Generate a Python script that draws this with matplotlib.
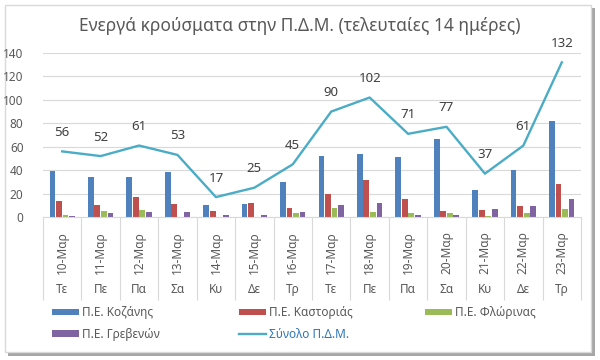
import numpy as np
import matplotlib
matplotlib.use("Agg")
from matplotlib import pyplot as plt
from matplotlib.patches import Rectangle, Patch
from matplotlib.lines import Line2D
from matplotlib.transforms import blended_transform_factory

plt.rcParams['font.family'] = ['Noto Sans', 'DejaVu Sans']

# Data
dates = ['10-Μαρ', '11-Μαρ', '12-Μαρ', '13-Μαρ', '14-Μαρ', '15-Μαρ', '16-Μαρ',
         '17-Μαρ', '18-Μαρ', '19-Μαρ', '20-Μαρ', '21-Μαρ', '22-Μαρ', '23-Μαρ']
days = ['Τε', 'Πε', 'Πα', 'Σα', 'Κυ', 'Δε', 'Τρ',
        'Τε', 'Πε', 'Πα', 'Σα', 'Κυ', 'Δε', 'Τρ']
kozani = [39, 34, 34, 38, 10, 11, 30, 52, 54, 51, 67, 23, 40, 82]
kastoria = [14, 10, 17, 11, 5, 12, 8, 20, 32, 15, 5, 6, 9, 28]
florina = [2, 5, 6, 0, 0, 0, 3, 8, 4, 3, 3, 1, 3, 7]
grevena = [1, 3, 4, 4, 2, 2, 4, 10, 12, 2, 2, 7, 9, 15]
total = [56, 52, 61, 53, 17, 25, 45, 90, 102, 71, 77, 37, 61, 132]

series = [
    ('Π.Ε. Κοζάνης', kozani, '#4F81BD'),
    ('Π.Ε. Καστοριάς', kastoria, '#C0504D'),
    ('Π.Ε. Φλώρινας', florina, '#9BBB59'),
    ('Π.Ε. Γρεβενών', grevena, '#8064A2'),
]
line_color = '#4BACC6'
text_grey = '#595959'

fig = plt.figure(figsize=(6, 3.6), dpi=100)

# outer frame with shadow
fig.patches.append(Rectangle((8/600, 4/360), 587/600, 348/360, transform=fig.transFigure,
                             facecolor='#A6A6A6', edgecolor='none', zorder=-3))
fig.patches.append(Rectangle((5/600, 8/360), 586/600, 347/360, transform=fig.transFigure,
                             facecolor='white', edgecolor='#D9D9D9', lw=1, zorder=-2))

ax = fig.add_axes([43/600, 1 - 217/360, 538/600, 164/360])
ax.set_facecolor('none')
x = np.arange(len(dates))

w = 0.15
step = 0.17
for i, (name, vals, col) in enumerate(series):
    ax.bar(x + (i - 1.5) * step, vals, width=w, color=col, zorder=2)

ax.plot(x, total, color=line_color, lw=1.7, zorder=3)
for xi, v in zip(x, total):
    ax.annotate(str(v), (xi, v), xytext=(0, 9), textcoords='offset points',
                ha='center', va='bottom', fontsize=9.5, color='#404040', zorder=4)

ax.set_xlim(-0.5, len(dates) - 0.5)
ax.set_ylim(0, 140)
ax.set_yticks(range(0, 141, 20))
ax.grid(axis='y', color='#D9D9D9', lw=0.8, zorder=0)
for s in ['top', 'right', 'left']:
    ax.spines[s].set_visible(False)
ax.spines['bottom'].set_color('#D9D9D9')
ax.tick_params(axis='y', length=0, labelsize=8.5, labelcolor=text_grey, pad=14)

# category axis: dates rotated, weekdays below, separators as long minor ticks
ax.set_xticks(x)
ax.set_xticklabels(dates, rotation=90, fontsize=8.5, color=text_grey)
ax.tick_params(axis='x', which='major', length=0, pad=10)
ax.set_xticks(np.arange(-0.5, len(dates), 1), minor=True)
ax.tick_params(axis='x', which='minor', length=60, color='#D9D9D9', width=0.8)
trans = blended_transform_factory(ax.transData, ax.transAxes)
for xi, d in zip(x, days):
    ax.text(xi, -0.445, d, transform=trans, ha='center', va='center',
            fontsize=8.5, color=text_grey)

fig.text(0.5, 1 - 26/360, 'Ενεργά κρούσματα στην Π.Δ.Μ. (τελευταίες 14 ημέρες)',
         ha='center', va='center', fontsize=12.5, color=text_grey)

# legend, three columns placed separately
handles = [Patch(facecolor=c, edgecolor='none') for _, _, c in series]
line_h = Line2D([], [], color=line_color, lw=1.7)
cols = [
    ([handles[0], handles[3]], [series[0][0], series[3][0]], 52),
    ([handles[1], line_h], [series[1][0], 'Σύνολο Π.Δ.Μ.'], 239),
    ([handles[2]], [series[2][0]], 425),
]
for hs, labs, xpos in cols:
    leg = fig.legend(hs, labs, loc='upper left', bbox_to_anchor=(xpos/600, 1 - 306/360),
                     frameon=False, fontsize=8.5, handlelength=2.3, handleheight=0.45,
                     handletextpad=0.25, labelspacing=0.75, borderpad=0, borderaxespad=0)
    for t in leg.get_texts():
        t.set_color(text_grey)
    if 'Σύνολο Π.Δ.Μ.' in labs:
        leg.get_texts()[1].set_color('#2E75B6')

fig.savefig('out.png', dpi=100)
